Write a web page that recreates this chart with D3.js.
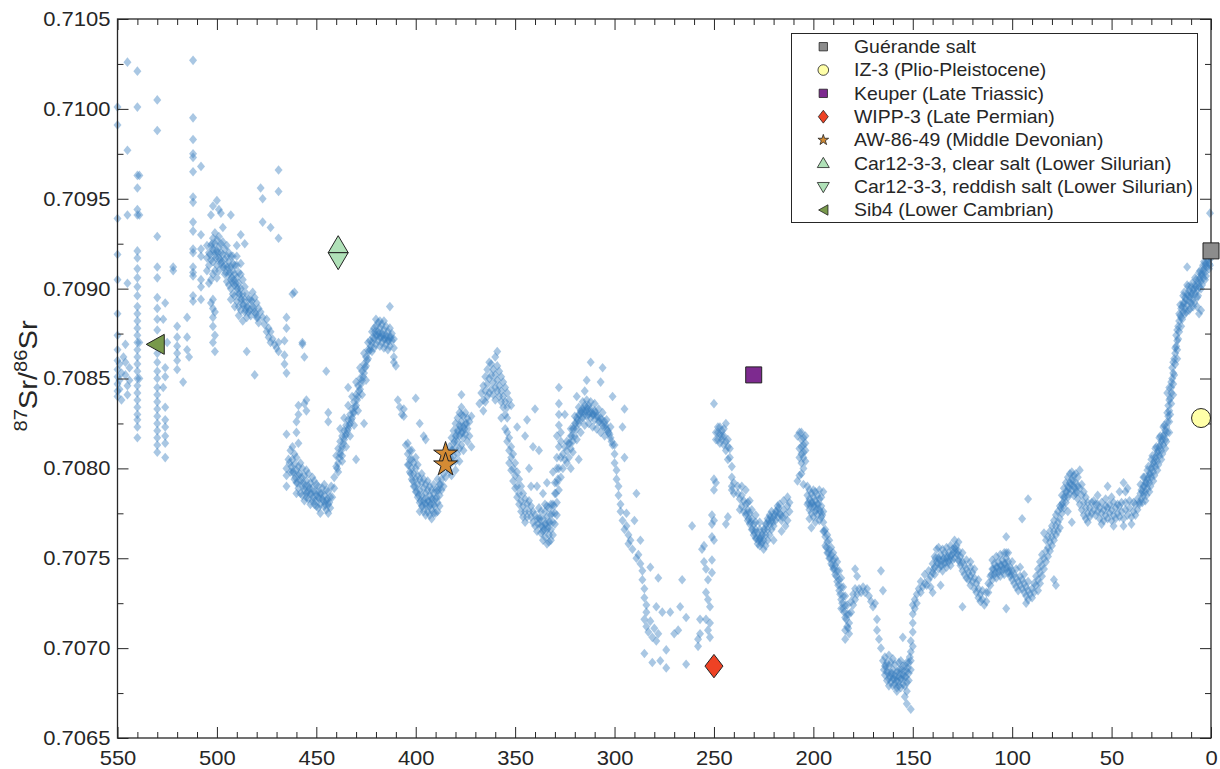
<!DOCTYPE html>
<html><head><meta charset="utf-8">
<script src="https://cdn.jsdelivr.net/npm/d3@7"></script>
<style>body{margin:0;background:#fff}svg{display:block}text{font-family:"Liberation Sans",Arial,Helvetica,sans-serif;fill:#262626}</style>
</head><body><svg id="c" width="1220" height="769"></svg>
<script>
// ---- seawater 87Sr/86Sr compilation: [age Ma, ratio] ----
const cambrian = [[550,0.71001],[550,0.70991],[550,0.70939],[550,0.70919],[550,0.70905],[550,0.70886],[550,0.70874],[550,0.70866],[550,0.70860],[550,0.70855],[550,0.70851],[550,0.70847],[550,0.70843],[550,0.70840],[549,0.70858],[549,0.70849],[549,0.70844],[548,0.70853],[548,0.70838],
[545,0.71026],[545,0.70977],[545,0.70941],[545,0.70903],[546,0.70869],[546,0.70859],[546,0.70852],[545,0.70846],[544,0.70856],[544,0.70849],[547,0.70862],[545,0.70841],
[540,0.71021],[540,0.71001],[540,0.70963],[540,0.70956],[540,0.70944],[540,0.70941],[540,0.70921],[540,0.70917],[540,0.70911],[540,0.70906],[540,0.70901],[540,0.70896],[540,0.70890],[540,0.70886],[540,0.70882],[540,0.70878],[540,0.70874],[540,0.70870],[540,0.70866],[540,0.70862],[540,0.70858],[540,0.70854],[540,0.70850],[540,0.70846],[540,0.70842],[540,0.70838],[540,0.70834],[540,0.70830],[540,0.70827],[540,0.70823],[540,0.70817],[539,0.70963],[539,0.70941],[539,0.70870],[539,0.70850],
[530,0.71005],[530,0.70988],[530,0.70929],[530,0.70912],[530,0.70906],[530,0.70895],[530,0.70889],[530,0.70883],[530,0.70877],[530,0.70864],[530,0.70859],[530,0.70854],[530,0.70850],[530,0.70845],[530,0.70841],[530,0.70837],[530,0.70833],[530,0.70829],[530,0.70825],[530,0.70821],[530,0.70817],[530,0.70813],[530,0.70809],
[526,0.70892],[526,0.70856],[526,0.70851],[526,0.70834],[526,0.70827],[526,0.70823],[526,0.70818],[526,0.70814],[526,0.70806],[527,0.70883],[527,0.70845],[525,0.70870],
[522,0.70912],[522,0.70910],[520,0.70879],[520,0.70873],[520,0.70868],[520,0.70864],[520,0.70860],[520,0.70855],[515,0.70884],[515,0.70873],[515,0.70866],[514,0.70862],[517,0.70848],
[512,0.71027],[512,0.70995],[512,0.70983],[512,0.70975],[512,0.70973],[512,0.70965],[512,0.70951],[512,0.70948],[512,0.70937],[512,0.70932],[512,0.70922],[512,0.70920],[512,0.70912],[512,0.70909],[512,0.70907],[512,0.70896],[512,0.70893],
[508,0.70968],[508,0.70930],[508,0.70922],[508,0.70918],[508,0.70905],[508,0.70901],[508,0.70894]];

const ordovician = [[504,0.70920],[503,0.70924],[503,0.70916],[502,0.70928],[502,0.70922],[502,0.70915],[501,0.70931],[501,0.70925],[501,0.70919],[500,0.70927],[500,0.70921],[500,0.70913],[499,0.70929],[499,0.70923],[499,0.70917],[498,0.70925],[498,0.70920],[504,0.70913],[505,0.70917],[505,0.70924],
[503,0.70941],[500,0.70949],[499,0.70944],[498,0.70942],[502,0.70946],[497,0.70934],
[503,0.70892],[502,0.70889],[501,0.70887],[502,0.70894],[502,0.70884],[502,0.70879],[501,0.70874],[502,0.70870],[501,0.70865],
[495,0.70918],[495,0.70912],[494,0.70915],[494,0.70908],[493,0.70912],[493,0.70905],[493,0.70900],[492,0.70910],[492,0.70903],[492,0.70897],[491,0.70908],[491,0.70902],[491,0.70896],[490,0.70906],[490,0.70900],[490,0.70893],[489,0.70903],[489,0.70897],[489,0.70890],[488,0.70900],[488,0.70894],[488,0.70888],[487,0.70897],[487,0.70891],[486,0.70894],[486,0.70887],[485,0.70890],[485,0.70884],[496,0.70916],[497,0.70919],[494,0.70920],[492,0.70918],[490,0.70913],[488,0.70908],
[486,0.70925],[493,0.70941],[485,0.70865],[488,0.70930],[490,0.70924],
[483,0.70894],[482,0.70898],[482,0.70890],[481,0.70895],[481,0.70887],[480,0.70892],[480,0.70884],[479,0.70889],[479,0.70881],
[478,0.70887],[477,0.70884],[476,0.70880],[475,0.70883],[475,0.70876],[474,0.70878],[474,0.70873],[473,0.70876],[473,0.70870],[472,0.70872],[471,0.70869],[470,0.70867],[469,0.70870],[469,0.70865],[466,0.70863],[466,0.70858],[465,0.70853],
[478,0.70956],[477,0.70950],[469,0.70966],[469,0.70954],[473,0.70934],[469,0.70928],[477,0.70937],[462,0.70897],[481,0.70852],[457,0.70869],[456,0.70862],[459,0.70835],[456,0.70836],[445,0.70854],[461,0.70898],[465,0.70884],[465,0.70878],[466,0.70871],[457,0.70870],
[465,0.70819],[465,0.70800],[465,0.70796],[465,0.70790],[460,0.70826],[460,0.70820],[459,0.70814],[460,0.70806],[459,0.70801],[460,0.70786],[455,0.70838],[455,0.70784],
[463,0.70810],[462,0.70805],[462,0.70798],[461,0.70802],[461,0.70794],[460,0.70799],[459,0.70796],[458,0.70803],[458,0.70793],[457,0.70800],[457,0.70790],[456,0.70796],[456,0.70788],[455,0.70793],[455,0.70786],[454,0.70790],[454,0.70783],[453,0.70792],[453,0.70786],[452,0.70789],[452,0.70782],[451,0.70787],[451,0.70780],[450,0.70785],[450,0.70779],[449,0.70784],[449,0.70778],[448,0.70786],[448,0.70780],[447,0.70783],[446,0.70785],[446,0.70779],[445,0.70782],[445,0.70777],[444,0.70787],[444,0.70780],[443,0.70784]];
const ordovicianDense = [[497,0.70926],[496,0.70922],[495,0.70924],[494,0.70902],[493,0.70918],[492,0.70914],[491,0.70913],[490,0.70918],[489,0.70909],[488,0.70914],[487,0.70905],[486,0.70901],[485,0.70897],[484,0.70894],[484,0.70887],[483,0.70885],[496,0.70908],[495,0.70904],[493,0.70894],[491,0.70890],[489,0.70885],[487,0.70882],[497,0.70912],[498,0.70914],[499,0.70910],[500,0.70906],[501,0.70910],[502,0.70908],[503,0.70905],[504,0.70903],[505,0.70910],
[464,0.70805],[463,0.70798],[462,0.70812],[461,0.70808],[460,0.70792],[459,0.70789],[458,0.70786],[457,0.70785],[456,0.70782],[455,0.70799],[454,0.70797],[453,0.70780],[452,0.70795],[451,0.70793],[450,0.70791],[449,0.70790],[448,0.70775],[447,0.70789],[446,0.70791],[445,0.70788],[444,0.70775],[443,0.70778],[442,0.70784],[441,0.70789],
[503.5,0.70919],[502.5,0.70925],[501.5,0.70921],[500.5,0.70917],[499.5,0.70920],[498.5,0.70916],[497.5,0.70915],[496.5,0.70912],[495.5,0.70909],[494.5,0.70912],[493.5,0.70909],[492.5,0.70906],[491.5,0.70905],[490.5,0.70903],[489.5,0.70900],[488.5,0.70897],[487.5,0.70894],[486.5,0.70891],[485.5,0.70888],[484.5,0.70890],[483.5,0.70888],[482.5,0.70893],[481.5,0.70889],[480.5,0.70886],[479.5,0.70884],
[463.5,0.70803],[462.5,0.70801],[461.5,0.70798],[460.5,0.70795],[459.5,0.70792],[458.5,0.70797],[457.5,0.70795],[456.5,0.70792],[455.5,0.70790],[454.5,0.70787],[453.5,0.70789],[452.5,0.70786],[451.5,0.70784],[450.5,0.70782],[449.5,0.70787],[448.5,0.70783],[447.5,0.70786],[446.5,0.70782],[445.5,0.70780],[444.5,0.70783],[443.5,0.70781],[442.5,0.70790]];

const silurian = [[441,0.70795],[440,0.70801],[440,0.70807],[439,0.70803],[439,0.70811],[438,0.70808],[438,0.70815],[437,0.70812],[437,0.70818],[436,0.70816],[436,0.70821],[435,0.70819],[435,0.70824],[434,0.70822],[434,0.70827],[433,0.70825],[433,0.70830],[432,0.70828],[432,0.70833],[431,0.70831],[431,0.70837],[430,0.70835],[430,0.70841],[429,0.70840],[429,0.70846],[428,0.70844],[428,0.70850],[427,0.70849],[427,0.70854],[426,0.70853],[426,0.70858],[425,0.70857],[425,0.70862],[424,0.70861],[424,0.70866],[423,0.70866],[423,0.70871],
[422,0.70870],[422,0.70876],[421,0.70872],[421,0.70878],[420,0.70869],[420,0.70874],[420,0.70879],[419,0.70871],[419,0.70876],[418,0.70873],[418,0.70878],[417,0.70870],[417,0.70875],[416,0.70872],[416,0.70877],[415,0.70869],[415,0.70874],[414,0.70871],[414,0.70876],[413,0.70873],[413,0.70868],[412,0.70871],[412,0.70875],[411,0.70867],[411,0.70872],[420,0.70883],[416,0.70882],[418,0.70882],
[413,0.70890],[411,0.70859],[410,0.70857],[411,0.70862],[437,0.70807],[430,0.70805],[444,0.70831],[444,0.70826],[434,0.70845],[426,0.70825],[459,0.70830],[455,0.70832],[406,0.70833]];
const silurianDense = [[439,0.70798],[437,0.70804],[435,0.70812],[433,0.70818],[431,0.70824],[429,0.70832],[427,0.70841],[425,0.70849],[438,0.70822],[436,0.70828],[434,0.70835],[432,0.70840],[430,0.70848],[428,0.70856],[426,0.70864],[424,0.70870],[422,0.70865],
[421,0.70867],[419,0.70881],[417,0.70880],[415,0.70879],[413,0.70878],[418,0.70868],[416,0.70867],[414,0.70866],
[439.5,0.70800],[438.5,0.70806],[437.5,0.70810],[436.5,0.70814],[435.5,0.70818],[434.5,0.70821],[433.5,0.70824],[432.5,0.70827],[431.5,0.70831],[430.5,0.70834],[429.5,0.70838],[428.5,0.70843],[427.5,0.70847],[426.5,0.70851],[425.5,0.70856],[424.5,0.70860],[423.5,0.70865],[422.5,0.70868],[421.5,0.70873],[420.5,0.70876],[419.5,0.70874],[418.5,0.70875],[417.5,0.70873],[416.5,0.70874],[415.5,0.70872],[414.5,0.70873],[413.5,0.70871],[412.5,0.70873]];

const devonian = [[409,0.70838],[408,0.70834],[407,0.70830],[406,0.70829],[400,0.70839],
[405,0.70813],[404,0.70808],[404,0.70802],[403,0.70805],[403,0.70798],[402,0.70800],[402,0.70794],[401,0.70797],[401,0.70790],[400,0.70794],[400,0.70787],[399,0.70791],[399,0.70784],[398,0.70788],[398,0.70781],[397,0.70792],[397,0.70785],[397,0.70779],[396,0.70789],[396,0.70782],[396,0.70776],[395,0.70786],[395,0.70780],[394,0.70788],[394,0.70782],[394,0.70776],[393,0.70785],[393,0.70779],[392,0.70783],[392,0.70777],[391,0.70786],[391,0.70780],[390,0.70775],[390,0.70783],[389,0.70788],[389,0.70781],[388,0.70791],[388,0.70785],[387,0.70794],[386,0.70797],[386,0.70790],
[398,0.70825],[396,0.70818],[395,0.70816],[404,0.70814],[402,0.70810],[400,0.70806],[399,0.70802],
[384,0.70800],[383,0.70805],[383,0.70798],[382,0.70810],[382,0.70803],[381,0.70814],[381,0.70807],[380,0.70818],[380,0.70811],[380,0.70804],[379,0.70821],[379,0.70815],[379,0.70808],[378,0.70824],[378,0.70818],[378,0.70811],[377,0.70826],[377,0.70820],[377,0.70813],[376,0.70823],[376,0.70817],[375,0.70825],[375,0.70819],[374,0.70822],[373,0.70826],[373,0.70818],[372,0.70829],[377,0.70841],[377,0.70834],[372,0.70812],
[368,0.70836],[367,0.70842],[366,0.70846],[366,0.70838],[365,0.70851],[365,0.70843],[364,0.70855],[364,0.70847],[363,0.70850],[363,0.70842],[362,0.70858],[362,0.70852],[362,0.70844],[361,0.70855],[361,0.70848],[360,0.70862],[360,0.70852],[360,0.70845],[359,0.70857],[359,0.70849],[358,0.70854],[358,0.70846],[357,0.70851],[357,0.70843],[356,0.70848],[356,0.70840],[355,0.70845],[355,0.70837],[354,0.70842],[354,0.70834],[353,0.70838],[352,0.70835],[359,0.70865]];
const devonianDense = [[403,0.70810],[402,0.70805],[401,0.70803],[400,0.70800],[399,0.70796],[398,0.70794],[397,0.70797],[396,0.70794],[395,0.70791],[394,0.70793],[393,0.70790],[392,0.70788],[391,0.70791],[390,0.70788],[389,0.70776],[388,0.70779],[392,0.70772],[395,0.70774],[398,0.70776],[393,0.70774],[391,0.70775],[389,0.70794],[387,0.70788],[385,0.70795],
[383,0.70812],[382,0.70817],[381,0.70821],[380,0.70825],[379,0.70828],[378,0.70831],[377,0.70830],[376,0.70829],[375,0.70831],[374,0.70828],[374,0.70815],[376,0.70810],[378,0.70804],[380,0.70799],[382,0.70796],
[366,0.70832],[365,0.70837],[364,0.70840],[363,0.70859],[361,0.70841],[360,0.70838],[359,0.70843],[358,0.70840],[357,0.70837],[356,0.70834],[355,0.70830],[354,0.70828],
[403.5,0.70802],[402.5,0.70797],[401.5,0.70793],[400.5,0.70790],[399.5,0.70787],[398.5,0.70785],[397.5,0.70782],[396.5,0.70779],[395.5,0.70783],[394.5,0.70779],[393.5,0.70782],[392.5,0.70780],[391.5,0.70783],[390.5,0.70779],[389.5,0.70784],[388.5,0.70788],[387.5,0.70791],
[383.5,0.70802],[382.5,0.70806],[381.5,0.70810],[380.5,0.70815],[379.5,0.70818],[378.5,0.70821],[377.5,0.70823],[376.5,0.70820],[375.5,0.70822],[374.5,0.70825]];

const carboniferous = [[355,0.70822],[354,0.70815],[353,0.70810],[353,0.70803],[352,0.70812],[352,0.70806],[351,0.70808],[351,0.70800],[350,0.70803],[350,0.70796],[349,0.70798],[349,0.70790],[348,0.70794],[348,0.70786],[347,0.70790],[347,0.70782],[346,0.70786],[346,0.70779],[345,0.70783],[345,0.70776],[344,0.70780],[343,0.70776],[342,0.70773],[341,0.70770],[340,0.70768],[339,0.70765],
[349,0.70823],[345,0.70818],[343,0.70800],[341,0.70812],[338,0.70810],[357,0.70828],[344,0.70827],[340,0.70833],
[338,0.70772],[337,0.70768],[337,0.70776],[336,0.70765],[336,0.70772],[335,0.70762],[335,0.70769],[335,0.70776],[334,0.70766],[334,0.70773],[333,0.70763],[333,0.70770],[333,0.70778],[332,0.70766],[332,0.70774],[331,0.70770],[331,0.70780],[330,0.70775],[330,0.70786],[329,0.70781],[329,0.70792],[328,0.70788],[328,0.70800],[328,0.70812],[328,0.70824],[328,0.70836],[328,0.70845],[329,0.70806],[329,0.70818],[327,0.70806],[327,0.70795],[332,0.70760],[334,0.70758],
[336,0.70786],[334,0.70792],[331,0.70798],[339,0.70790],[342,0.70790],
[326,0.70800],[325,0.70805],[324,0.70810],[324,0.70803],[323,0.70814],[322,0.70811],[322,0.70818],[321,0.70815],[321,0.70822],[320,0.70818],[320,0.70825],[319,0.70822],[319,0.70828],[318,0.70825],[318,0.70830],[317,0.70827],[317,0.70832],[316,0.70828],[316,0.70833],[315,0.70830],[315,0.70835],[314,0.70829],[314,0.70834],[313,0.70830],[313,0.70835],[312,0.70828],[312,0.70833],[311,0.70830],[310,0.70827],[310,0.70832],[309,0.70829],[308,0.70826],[307,0.70828],[306,0.70824],[305,0.70826],[304,0.70822],[303,0.70820],[302,0.70817],[301,0.70813],[300,0.70808],[300,0.70803],
[312,0.70859],[306,0.70856],[314,0.70849],[307,0.70848],[301,0.70840],[295,0.70833],[296,0.70823],[295,0.70806],[319,0.70840],[315,0.70843],[325,0.70830],[318,0.70805],[322,0.70800]];
const carboniferousDense = [[324,0.70815],[322,0.70822],[320,0.70829],[318,0.70834],[316,0.70837],[314,0.70838],[312,0.70837],[310,0.70836],[308,0.70833],[306,0.70831],[304,0.70827],[302,0.70823],[300,0.70813],[323,0.70806],[321,0.70809],[319,0.70816],[317,0.70820],[315,0.70824],[313,0.70825],[311,0.70823],[309,0.70822],[307,0.70820],[305,0.70818],
[339,0.70772],[338,0.70778],[337,0.70764],[336,0.70760],[335,0.70780],[334,0.70779],[333,0.70759],[332,0.70780],[331,0.70763],[330,0.70769],[329,0.70774],[330,0.70792],[329,0.70800],[328,0.70830],[327,0.70815],[327,0.70820],[326,0.70808],[325,0.70812],
[354,0.70820],[353,0.70817],[352,0.70799],[351,0.70793],[350,0.70789],[349,0.70784],[348,0.70780],[347,0.70776],[346,0.70773],[345,0.70770],[344,0.70773],[343,0.70782],[342,0.70779],[341,0.70776],[340,0.70774],
[338.5,0.70769],[337.5,0.70772],[336.5,0.70768],[335.5,0.70766],[334.5,0.70769],[333.5,0.70767],[332.5,0.70770],[331.5,0.70775],[330.5,0.70779],[329.5,0.70786],[328.5,0.70794],
[322.5,0.70814],[321.5,0.70818],[320.5,0.70822],[319.5,0.70825],[318.5,0.70827],[317.5,0.70830],[316.5,0.70831],[315.5,0.70832],[314.5,0.70832],[313.5,0.70833],[312.5,0.70831],[311.5,0.70831],[310.5,0.70830],[309.5,0.70831],[308.5,0.70829],[307.5,0.70826],[306.5,0.70827],[305.5,0.70823],[304.5,0.70824],[303.5,0.70821],[302.5,0.70819],[301.5,0.70815]];

const permian = [[299,0.70799],[299,0.70794],[298,0.70790],[298,0.70785],[297,0.70780],[297,0.70776],[296,0.70771],[295,0.70766],
[294,0.70775],[294,0.70768],[293,0.70763],[293,0.70758],[292,0.70760],[291,0.70755],[290,0.70771],[289,0.70786],[289,0.70750],[288,0.70752],[287,0.70747],[287,0.70760],[286,0.70743],[286,0.70738],[285,0.70733],[285,0.70728],[284,0.70724],[284,0.70720],[285,0.70716],[284,0.70712],[283,0.70709],[282,0.70715],[281,0.70706],[280,0.70711],[279,0.70704],[278,0.70708],[285,0.70697],[281,0.70692],[277,0.70693],[274,0.70699],[274,0.70689],[279,0.70723],[278,0.70739],[282,0.70745],[276,0.70720],[272,0.70720],[267,0.70723],[264,0.70717],[270,0.70708],[268,0.70710],[264,0.70691],[266,0.70738],[261,0.70768],[258,0.70705],[258,0.70701],[257,0.70708],[257,0.70716],
[256,0.70755],[255,0.70757],[255,0.70748],[254,0.70744],[253,0.70738],[254,0.70731],[253,0.70727],[252,0.70723],[254,0.70716],[253,0.70710],[252,0.70714],[252,0.70706],[251,0.70749],[251,0.70742],[251,0.70769],[251,0.70762],[250,0.70771],[250,0.70760],[251,0.70774],[250,0.70794],[250,0.70788],[249,0.70792],[250,0.70836]];

const triassic = [[249,0.70820],[248,0.70823],[248,0.70816],[247,0.70819],[247,0.70814],[246,0.70821],[246,0.70816],[245,0.70818],[245,0.70813],[244,0.70815],[244,0.70810],[243,0.70805],[243,0.70812],[242,0.70806],[244,0.70825],[241,0.70795],[241,0.70788],[240,0.70786],[241,0.70790],[244,0.70769],[243,0.70773],
[238,0.70790],[238,0.70786],[237,0.70783],[237,0.70777],[236,0.70785],[236,0.70779],[235,0.70782],[235,0.70776],[234,0.70788],[234,0.70780],[234,0.70774],[233,0.70777],[233,0.70771],[232,0.70775],[232,0.70769],[231,0.70772],[231,0.70766],[230,0.70769],[230,0.70763],[229,0.70766],[229,0.70761],[228,0.70764],[228,0.70758],[227,0.70761],[227,0.70757],[226,0.70759],[226,0.70763],[225,0.70760],[225,0.70766],[224,0.70763],[224,0.70769],[223,0.70766],[223,0.70772],[222,0.70769],[222,0.70774],[221,0.70771],[221,0.70776],[220,0.70773],[220,0.70760],[219,0.70776],[218,0.70779],[218,0.70773],[217,0.70775],[216,0.70771],[215,0.70777],[214,0.70774],[213,0.70779],[213,0.70771],[212,0.70776],[226,0.70758],[227,0.70770],[229,0.70774],[232,0.70782],[236,0.70790],
[208,0.70818],[207,0.70820],[207,0.70811],[206,0.70816],[206,0.70808],[206,0.70803],[205,0.70813],[205,0.70806],[205,0.70800],[204,0.70818],[204,0.70810],[204,0.70804],[206,0.70797],[208,0.70793],[207,0.70796],[205,0.70791]];
const triassicDense = [[233,0.70781],[231,0.70777],[229,0.70770],[227,0.70766],[225,0.70755],[224,0.70757],[223,0.70760],[222,0.70763],[221,0.70766],[220,0.70768],[219,0.70771],[217,0.70780],[215,0.70782],[214,0.70768],[212,0.70781],[213,0.70784],[216,0.70765],
[207,0.70806],[206,0.70812],[205,0.70809],[204,0.70814],[206,0.70820],[205,0.70817],
[249,0.70816],[248,0.70820],[247,0.70823],[246,0.70818],[245,0.70822],[243,0.70816],[242,0.70811],[241,0.70801],[240,0.70792],
[233.5,0.70775],[232.5,0.70772],[231.5,0.70770],[230.5,0.70766],[229.5,0.70764],[228.5,0.70761],[227.5,0.70760],[226.5,0.70761],[225.5,0.70763],[224.5,0.70766],[223.5,0.70769],[222.5,0.70771],[221.5,0.70773],[220.5,0.70770],[219.5,0.70774],[218.5,0.70776],[217.5,0.70778],[216.5,0.70774],[215.5,0.70773]];

const jurassic = [[203,0.70785],[203,0.70780],[202,0.70783],[202,0.70777],[201,0.70781],[201,0.70775],[201,0.70767],[200,0.70788],[200,0.70779],[200,0.70773],[199,0.70782],[199,0.70776],[198,0.70780],[198,0.70774],[197,0.70783],[197,0.70777],[196,0.70779],[196,0.70773],[195,0.70787],[195,0.70776],[195,0.70770],
[195,0.70765],[194,0.70762],[194,0.70757],[193,0.70759],[193,0.70753],[192,0.70755],[192,0.70750],[191,0.70752],[191,0.70747],[190,0.70749],[190,0.70744],[189,0.70746],[189,0.70741],[188,0.70743],[188,0.70737],[187,0.70738],[187,0.70732],[186,0.70734],[186,0.70727],[185,0.70729],[185,0.70722],[184,0.70724],[184,0.70717],[183,0.70719],[183,0.70712],[182,0.70714],[182,0.70708],[184,0.70710],
[181,0.70720],[181,0.70726],[180,0.70724],[180,0.70730],[179,0.70727],[179,0.70733],[178,0.70730],[178,0.70740],[177,0.70733],[176,0.70731],[175,0.70734],[174,0.70731],[173,0.70733],[172,0.70729],[171,0.70726],[170,0.70723],[179,0.70744],[166,0.70743],
[169,0.70725],[168,0.70716],[168,0.70710],[167,0.70705],[165,0.70732],[166,0.70700],
[165,0.70693],[164,0.70690],[164,0.70685],[163,0.70692],[163,0.70687],[162,0.70683],[162,0.70690],[161,0.70686],[161,0.70681],[160,0.70688],[160,0.70683],[160,0.70679],[159,0.70685],[159,0.70680],[158,0.70687],[158,0.70682],[157,0.70684],[157,0.70679],[156,0.70688],[156,0.70683],[155,0.70685],[155,0.70680],[154,0.70690],[154,0.70684],[153,0.70681],[153,0.70687],[152,0.70692],[152,0.70686],[155,0.70706],[154,0.70673],[153,0.70669],[151,0.70666],[158,0.70676],[162,0.70696],[157,0.70692],
[151,0.70698],[151,0.70704],[150,0.70709],[150,0.70714],[150,0.70719],[150,0.70724],[149,0.70727],[149,0.70722],[148,0.70730],[148,0.70725],[147,0.70733],[146,0.70731],[150,0.70701]];
const jurassicDense = [[164,0.70695],[163,0.70682],[161,0.70692],[159,0.70691],[158,0.70678],[157,0.70688],[156,0.70678],[155,0.70690],[154,0.70679],[153,0.70676],[152,0.70682],[160,0.70694],[162,0.70679],[156,0.70693],[153,0.70692],[151,0.70688],[151,0.70693],
[194,0.70766],[193,0.70763],[192,0.70760],[191,0.70756],[190,0.70753],[189,0.70750],[188,0.70748],[187,0.70743],[186,0.70739],[185,0.70734],[184,0.70729],[183,0.70724],[182,0.70719],[186,0.70722],[184,0.70705],
[203,0.70790],[202,0.70788],[201,0.70786],[200,0.70784],[199,0.70787],[198,0.70785],[197,0.70788],[196,0.70784],[199,0.70770],[197,0.70771],[202,0.70772],
[202.5,0.70781],[201.5,0.70779],[200.5,0.70781],[199.5,0.70779],[198.5,0.70777],[197.5,0.70780],[196.5,0.70776],[195.5,0.70774],[194.5,0.70765],[193.5,0.70756],[192.5,0.70753],[191.5,0.70750],[190.5,0.70746],[189.5,0.70744],[188.5,0.70740],[187.5,0.70735],[186.5,0.70730],[185.5,0.70725],[184.5,0.70720],[183.5,0.70716],[182.5,0.70711],
[164.5,0.70688],[163.5,0.70690],[162.5,0.70686],[161.5,0.70684],[160.5,0.70686],[159.5,0.70683],[158.5,0.70684],[157.5,0.70681],[156.5,0.70686],[155.5,0.70683],[154.5,0.70687],[153.5,0.70684],[152.5,0.70689],[151.5,0.70695]];

const cretaceous = [[145,0.70734],[144,0.70736],[143,0.70735],[142,0.70738],[141,0.70734],[141,0.70740],[140,0.70742],[139,0.70741],
[139,0.70745],[138,0.70748],[138,0.70755],[137,0.70744],[137,0.70750],[136,0.70746],[136,0.70752],[135,0.70743],[135,0.70749],[134,0.70747],[134,0.70753],[133,0.70745],[133,0.70750],[132,0.70748],[132,0.70753],[131,0.70746],[131,0.70751],[130,0.70749],[130,0.70755],[129,0.70750],[129,0.70756],[128,0.70753],[128,0.70757],[127,0.70749],[127,0.70754],[126,0.70746],[126,0.70751],[140,0.70731],[136,0.70735],
[125,0.70743],[125,0.70748],[124,0.70741],[124,0.70746],[123,0.70739],[123,0.70744],[122,0.70738],[122,0.70742],[121,0.70740],[121,0.70745],[120,0.70737],[120,0.70742],[119,0.70733],[119,0.70739],[118,0.70731],[118,0.70736],[117,0.70728],[117,0.70733],[116,0.70726],[116,0.70730],[115,0.70727],[114,0.70724],[113,0.70726],[125,0.70723],[121,0.70748],
[112,0.70731],[111,0.70735],[111,0.70740],[110,0.70738],[110,0.70744],[109,0.70741],[109,0.70747],[108,0.70739],[108,0.70745],[107,0.70742],[107,0.70748],[106,0.70740],[106,0.70746],[105,0.70743],[105,0.70749],[104,0.70741],[104,0.70747],[103,0.70744],[103,0.70750],[102,0.70742],[102,0.70748],[101,0.70745],[101,0.70740],[100,0.70743],[100,0.70738],[99,0.70741],[99,0.70736],[103,0.70762],[103,0.70753],[103,0.70722],
[98,0.70739],[98,0.70734],[97,0.70737],[97,0.70732],[96,0.70740],[96,0.70735],[95,0.70738],[95,0.70733],[94,0.70736],[94,0.70731],[93,0.70734],[93,0.70729],[92,0.70732],[92,0.70727],[91,0.70730],[90,0.70728],[89,0.70731],[88,0.70735],[95,0.70772],[92,0.70783],[93,0.70725],
[88,0.70740],[87,0.70738],[87,0.70744],[86,0.70742],[86,0.70748],[85,0.70746],[85,0.70752],[84,0.70750],[84,0.70764],[83,0.70754],[83,0.70748],[82,0.70756],[82,0.70751],[81,0.70759],[81,0.70754],[80,0.70762],[80,0.70757],[79,0.70765],[79,0.70760],[78,0.70768],[78,0.70763],[77,0.70770],[77,0.70765],[76,0.70772],[76,0.70767],[79,0.70738],[78,0.70735],
[75,0.70775],[75,0.70780],[74,0.70778],[74,0.70784],[73,0.70781],[73,0.70787],[72,0.70784],[72,0.70790],[71,0.70786],[71,0.70792],[70,0.70788],[70,0.70794],[69,0.70790],[69,0.70796],[68,0.70786],[68,0.70792],[67,0.70783],[67,0.70790],[66,0.70799]];
const cretaceousDense = [[146,0.70737],[144,0.70741],[142,0.70743],[140,0.70747],[139,0.70751],[137,0.70756],[135,0.70755],[133,0.70756],[131,0.70757],[129,0.70760],[127,0.70759],[125,0.70753],[123,0.70749],[121,0.70735],[119,0.70744],[117,0.70738],[115,0.70732],[113,0.70731],[112,0.70736],[110,0.70749],[108,0.70751],[106,0.70752],[104,0.70753],[102,0.70753],[100,0.70748],[98,0.70744],[96,0.70745],[94,0.70741],[92,0.70737],[90,0.70733],
[89,0.70736],[87,0.70732],[86,0.70736],[85,0.70740],[84,0.70744],[83,0.70760],[82,0.70762],[81,0.70765],[80,0.70768],[79,0.70771],[78,0.70774],[77,0.70776],[76,0.70779],[75,0.70785],[74,0.70789],[73,0.70792],[72,0.70795],[71,0.70797],[70,0.70798],[69,0.70785],[68,0.70797],[67,0.70795],
[139.5,0.70744],[138.5,0.70750],[137.5,0.70747],[136.5,0.70749],[135.5,0.70746],[134.5,0.70750],[133.5,0.70748],[132.5,0.70751],[131.5,0.70749],[130.5,0.70752],[129.5,0.70753],[128.5,0.70755],[127.5,0.70752],[126.5,0.70748],[110.5,0.70741],[109.5,0.70744],[108.5,0.70742],[107.5,0.70745],[106.5,0.70743],[105.5,0.70746],[104.5,0.70744],[103.5,0.70747],[102.5,0.70745],[101.5,0.70743],[100.5,0.70741],
[75.5,0.70778],[74.5,0.70781],[73.5,0.70784],[72.5,0.70787],[71.5,0.70789],[70.5,0.70791],[69.5,0.70793],[68.5,0.70789],[67.5,0.70787]];

const cenozoic = [[66,0.70780],[65,0.70785],[65,0.70777],[64,0.70781],[64,0.70774],[63,0.70778],[63,0.70772],[62,0.70775],[70,0.70770],[72,0.70776],
[61,0.70778],[60,0.70775],[60,0.70781],[59,0.70777],[58,0.70774],[58,0.70780],[57,0.70776],[56,0.70772],[56,0.70778],[55,0.70775],[54,0.70771],[54,0.70777],[53,0.70774],[52,0.70778],[52,0.70772],[51,0.70775],[50,0.70771],[50,0.70777],[49,0.70774],[48,0.70778],[48,0.70772],[47,0.70775],[46,0.70779],[46,0.70773],[45,0.70776],[44,0.70792],[44,0.70772],[43,0.70787],[43,0.70777],[42,0.70774],[41,0.70778],[40,0.70773],[39,0.70776],[38,0.70780],[38,0.70774],[37,0.70777],[36,0.70781],[57,0.70785],[53,0.70783],[50,0.70784],
[36,0.70780],[35,0.70783],[35,0.70788],[34,0.70785],[34,0.70790],[33,0.70787],[33,0.70792],[32,0.70789],[32,0.70794],[31,0.70792],[31,0.70797],[30,0.70795],[30,0.70800],[29,0.70798],[29,0.70803],[28,0.70801],[28,0.70806],[27,0.70804],[27,0.70809],[26,0.70807],[26,0.70812],[25,0.70810],[25,0.70815],[24,0.70813],[24,0.70818],[23,0.70816],[23,0.70821],[22,0.70820],[22,0.70826],[21,0.70826],[21,0.70832],[21,0.70838],[20,0.70836],[20,0.70842],[20,0.70848],[19,0.70847],[19,0.70853],[19,0.70859],[18,0.70858],[18,0.70864],[17,0.70866],[17,0.70871],[17,0.70877],[16,0.70876],[16,0.70882],[15,0.70884],[15,0.70889],[22,0.70842],[21,0.70845],
[14,0.70887],[14,0.70892],[13,0.70889],[13,0.70895],[12,0.70891],[12,0.70897],[12,0.70912],[11,0.70893],[11,0.70899],[10,0.70892],[10,0.70897],[9,0.70894],[9,0.70899],[8,0.70897],[8,0.70902],[7,0.70890],[7,0.70899],[6,0.70901],[6,0.70905],[5,0.70888],[5,0.70904],[5,0.70908],[4,0.70906],[4,0.70910],[3,0.70909],[3,0.70913],[2,0.70912],[2,0.70916],[1,0.70914],[1,0.70918],[0,0.70917],[0,0.70920],[0.5,0.70942],[6,0.70886]];
const cenozoicDense = [[66,0.70789],[65,0.70791],[64,0.70787],[63,0.70784],[62,0.70781],[62,0.70770],
[59,0.70782],[57,0.70780],[55,0.70781],[53,0.70779],[51,0.70780],[49,0.70781],[47,0.70780],[45,0.70781],[43,0.70781],[41,0.70782],[39,0.70781],[37,0.70783],[61,0.70773],[55,0.70769],[49,0.70768],[44,0.70768],[40,0.70769],[46,0.70787],[52,0.70790],[42,0.70789],
[35.5,0.70786],[34.5,0.70787],[33.5,0.70790],[32.5,0.70792],[31.5,0.70795],[30.5,0.70797],[29.5,0.70801],[28.5,0.70804],[27.5,0.70807],[26.5,0.70810],[25.5,0.70813],[24.5,0.70816],[23.5,0.70819],[22.5,0.70823],[21.5,0.70829],[20.5,0.70839],[19.5,0.70850],[18.5,0.70861],[17.5,0.70868],[16.5,0.70879],[15.5,0.70885],[14.5,0.70890],[13.5,0.70892],[12.5,0.70894],[11.5,0.70896],[10.5,0.70895],[9.5,0.70897],[8.5,0.70900],[7.5,0.70901],[6.5,0.70903],[5.5,0.70906],[4.5,0.70908],[3.5,0.70911],[2.5,0.70914],[1.5,0.70916],[0.5,0.70919],
[34,0.70795],[32,0.70799],[30,0.70805],[28,0.70811],[26,0.70817],[24,0.70823],[22,0.70831],[20,0.70845],[18,0.70867],[16,0.70886],[14,0.70896],[12,0.70902],[10,0.70901],[8,0.70906],[6,0.70909],[4,0.70913],[2,0.70919],[33,0.70782],[31,0.70787],[29,0.70793],[27,0.70799],[25,0.70805],[23,0.70811],[21,0.70820],[19,0.70841],[17,0.70861],[15,0.70879],[13,0.70886],[11,0.70888],[9,0.70890],[7,0.70895],[5,0.70900],[3,0.70905],[1,0.70911],
[35.5,0.70791],[33.5,0.70795],[31.5,0.70801],[29.5,0.70807],[27.5,0.70812],[25.5,0.70818],[23.5,0.70824],[21.5,0.70835],[19.5,0.70856],[17.5,0.70874],[15.5,0.70891],[13.5,0.70898],[11.5,0.70901],[9.5,0.70903],[7.5,0.70905],[5.5,0.70910],[3.5,0.70915],[1.5,0.70920],[34.5,0.70781],[32.5,0.70785],[30.5,0.70790],[28.5,0.70796],[26.5,0.70802],[24.5,0.70808],[22.5,0.70815],[20.5,0.70830],[18.5,0.70852],[16.5,0.70872],[14.5,0.70883],[12.5,0.70887],[10.5,0.70889],[8.5,0.70892],[6.5,0.70896],[4.5,0.70902],[2.5,0.70907],[0.5,0.70913]];

// ---- evaporite samples ----
const sampleNames = ["Guérande salt","IZ-3 (Plio-Pleistocene)","Keuper (Late Triassic)","WIPP-3 (Late Permian)","AW-86-49 (Middle Devonian)","Car12-3-3, clear salt (Lower Silurian)","Car12-3-3, reddish salt (Lower Silurian)","Sib4 (Lower Cambrian)"];
const sampleAge = [[0],[5],[230],[250],[385,385],[439],[439],[531]];
const sampleSr  = [[0.70921],[0.70828],[0.70852],[0.70690],[0.70808,0.70802],[0.70920],[0.70920],[0.70869]];
const sampleShape = ["square","circle","square","diamond","star","up","down","left"];
const sampleColor = ["#8c8c8c","#ffffa8","#7d2a8f","#ee4224","#d38b34","#b0e1b8","#b0e1b8","#78994b"];

const xTicks = [550,500,450,400,350,300,250,200,150,100,50,0];
const yTicks = [0.7065,0.7070,0.7075,0.7080,0.7085,0.7090,0.7095,0.7100,0.7105];

// ---- drawing ----
const svg = d3.select("#c");
svg.append("rect").attr("width",1220).attr("height",769).attr("fill","#fff");
const L=117.5,R=1211,T=19,B=738;
const x = d3.scaleLinear().domain([550,0]).range([L,R]);
const y = d3.scaleLinear().domain([0.7065,0.7105]).range([B,T]);
const AX="#262626", SX=1.1;

// data points
const all = [].concat(cambrian,ordovician,ordovicianDense,silurian,silurianDense,devonian,devonianDense,carboniferous,carboniferousDense,permian,triassic,triassicDense,jurassic,jurassicDense,cretaceous,cretaceousDense,cenozoic,cenozoicDense);
svg.append("g").selectAll("path").data(all).join("path")
  .attr("d","M0,-4.8L4,0L0,4.8L-4,0Z")
  .attr("transform",d=>`translate(${x(d[0])},${y(d[1])})`)
  .attr("fill","rgb(55,126,190)").attr("fill-opacity",0.43);

const xMinor = d3.range(0,551,10).filter(v=>v%50!==0);
const yMinor = d3.range(0,17).map(i=>0.7065+i*0.00025).filter((v,i)=>i%2===1);

function styleAxis(g){ g.select(".domain").remove(); g.selectAll("line").attr("stroke",AX).attr("stroke-width",1); }
svg.append("g").attr("transform",`translate(0,${B})`).call(d3.axisBottom(x).tickValues(xTicks).tickSize(-11).tickPadding(13).tickFormat(d3.format("d"))).call(styleAxis)
  .selectAll("text").attr("font-size",20).attr("fill",AX).attr("transform",`scale(${SX},1)`);
svg.append("g").attr("transform",`translate(0,${B})`).call(d3.axisBottom(x).tickValues(xMinor).tickSize(-6).tickFormat("")).call(styleAxis);
svg.append("g").attr("transform",`translate(0,${T})`).call(d3.axisTop(x).tickValues(xTicks).tickSize(-11).tickFormat("")).call(styleAxis);
svg.append("g").attr("transform",`translate(0,${T})`).call(d3.axisTop(x).tickValues(xMinor).tickSize(-6).tickFormat("")).call(styleAxis);
svg.append("g").attr("transform",`translate(${L},0)`).call(d3.axisLeft(y).tickValues(yTicks).tickSize(-11).tickPadding(7).tickFormat(d3.format(".4f"))).call(styleAxis)
  .selectAll("text").attr("font-size",20).attr("fill",AX).attr("transform",`scale(${SX},1)`).attr("x",-7/SX);
svg.append("g").attr("transform",`translate(${L},0)`).call(d3.axisLeft(y).tickValues(yMinor).tickSize(-6).tickFormat("")).call(styleAxis);
svg.append("g").attr("transform",`translate(${R},0)`).call(d3.axisRight(y).tickValues(yTicks).tickSize(-11).tickFormat("")).call(styleAxis);
svg.append("g").attr("transform",`translate(${R},0)`).call(d3.axisRight(y).tickValues(yMinor).tickSize(-6).tickFormat("")).call(styleAxis);
// frame
svg.append("rect").attr("x",L).attr("y",T).attr("width",R-L).attr("height",B-T).attr("fill","none").attr("stroke",AX).attr("stroke-width",1.3);

// shapes
function shapePath(s,k){
  if(s==="square") return `M${-8*k},${-8*k}h${16*k}v${16*k}h${-16*k}Z`;
  if(s==="circle"){const r=9.5*k;return `M${-r},0a${r},${r} 0 1,0 ${2*r},0a${r},${r} 0 1,0 ${-2*r},0Z`;}
  if(s==="diamond") return `M0,${-11.7*k}L${9*k},0L0,${11.7*k}L${-9*k},0Z`;
  if(s==="up") return `M0,${-17*k}L${10*k},0L${-10*k},0Z`;
  if(s==="down") return `M0,${17*k}L${10*k},0L${-10*k},0Z`;
  if(s==="left") return `M${-9*k},0L${9*k},${-10*k}L${9*k},${10*k}Z`;
  if(s==="star"){let p=[];for(let i=0;i<10;i++){const r=(i%2?0.382:1)*12.5*k,a=-Math.PI/2+i*Math.PI/5;p.push([r*Math.cos(a),r*Math.sin(a)]);}return "M"+p.map(q=>q[0].toFixed(2)+","+q[1].toFixed(2)).join("L")+"Z";}
}
const mk = svg.append("g");
sampleNames.forEach((n,i)=>{
  sampleAge[i].forEach((a,j)=>{
    mk.append("path").attr("d",shapePath(sampleShape[i],1))
      .attr("transform",`translate(${x(a)},${y(sampleSr[i][j])})`)
      .attr("fill",sampleColor[i]).attr("stroke","#222").attr("stroke-width",1);
  });
});

// legend
const lg = svg.append("g");
lg.append("rect").attr("x",791.5).attr("y",33.5).attr("width",406).attr("height",189).attr("fill","#fff").attr("stroke",AX).attr("stroke-width",1);
const legK = [0.52,0.56,0.52,0.55,0.45,0.6,0.6,0.52];
sampleNames.forEach((n,i)=>{
  const cy = 46.7+i*23.33;
  let oy = 0;
  if(sampleShape[i]==="up") oy = 4.2; if(sampleShape[i]==="down") oy = -4.2;
  lg.append("path").attr("d",shapePath(sampleShape[i],legK[i])).attr("transform",`translate(823.3,${cy+oy})`)
    .attr("fill",sampleColor[i]).attr("stroke","#222").attr("stroke-width",0.8);
  lg.append("text").attr("transform",`translate(854,${cy+6.3}) scale(1.08,1)`).attr("font-size",18).text(n);
});

// y label
const yl = svg.append("text").attr("transform","translate(37,376) rotate(-90) scale(1.12,1)").attr("text-anchor","middle").attr("font-size",26);
yl.append("tspan").attr("font-size",18).attr("dy",-10).text("87");
yl.append("tspan").attr("dy",10).text("Sr/");
yl.append("tspan").attr("font-size",18).attr("dy",-10).text("86");
yl.append("tspan").attr("dy",10).text("Sr");
</script></body></html>
